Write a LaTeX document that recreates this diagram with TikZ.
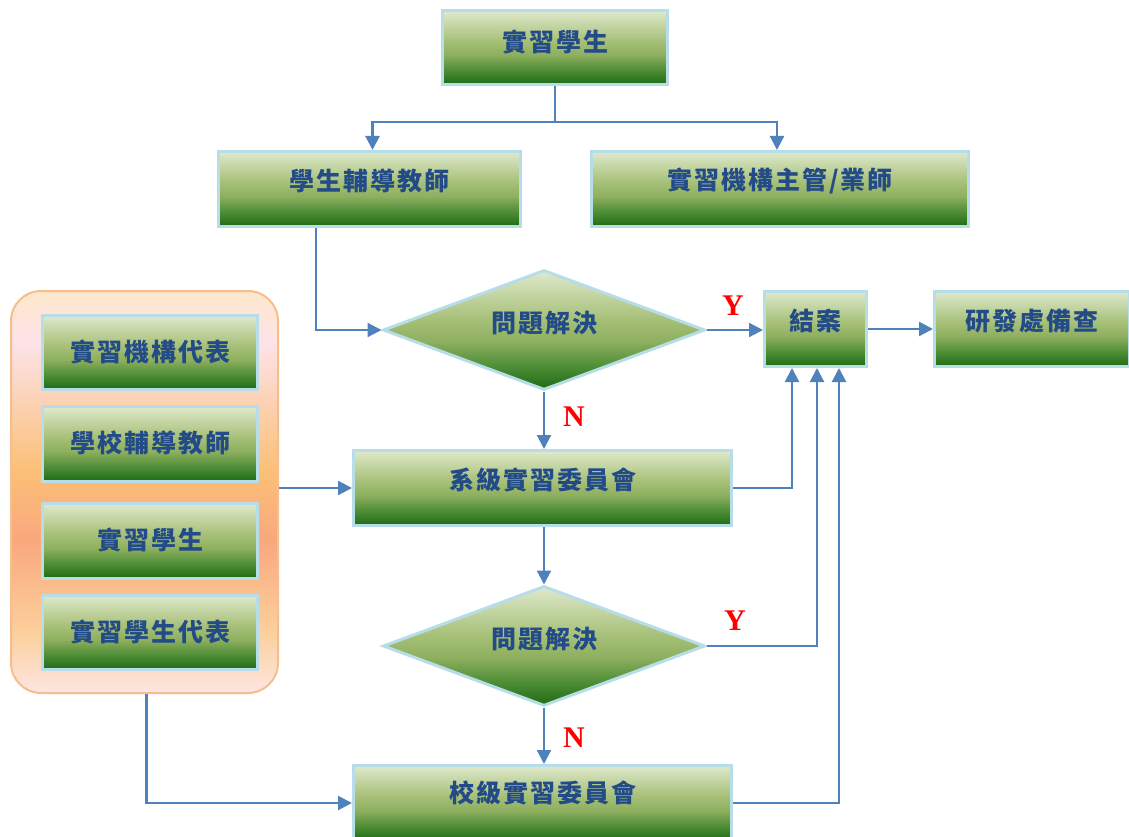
\documentclass[tikz,border=0pt]{standalone}
\usepackage{fontspec}
\usetikzlibrary{shapes.geometric,arrows.meta}
\newfontfamily\cjk[LetterSpace=8]{Noto Sans CJK TC}
\newfontfamily\lserif{Liberation Serif}
\definecolor{gA}{HTML}{1E6B14}
\definecolor{gB}{HTML}{4F8E37}
\definecolor{gC}{HTML}{8DAF5E}
\definecolor{gD}{HTML}{A8C17A}
\definecolor{gE}{HTML}{DFE9CC}
\definecolor{oA}{HTML}{FDE5E3}
\definecolor{oB}{HTML}{FCD09C}
\definecolor{oC}{HTML}{F9A87E}
\definecolor{oD}{HTML}{FBBF76}
\definecolor{oE}{HTML}{FDE2E8}
\definecolor{oF}{HTML}{FDE8CB}
\definecolor{boxborder}{HTML}{B7DDE8}
\definecolor{contborder}{HTML}{F8BD8C}
\definecolor{txtblue}{HTML}{234B87}
\definecolor{lineblue}{HTML}{4F81BD}
\pgfdeclareverticalshading{gshade}{100bp}{color(0bp)=(gA); color(25bp)=(gA); color(35bp)=(gB); color(45bp)=(gC); color(55bp)=(gD); color(75bp)=(gE); color(100bp)=(gE)}
\pgfdeclareverticalshading{oshade}{100bp}{color(0bp)=(oA); color(25bp)=(oA); color(32.5bp)=(oB); color(44bp)=(oC); color(52.5bp)=(oD); color(68.5bp)=(oE); color(75bp)=(oF); color(100bp)=(oF)}
\begin{document}
\begin{tikzpicture}[x=1pt,y=-1pt,
  gbox/.style={rectangle, draw=boxborder, line width=3pt, shading=gshade, inner sep=0pt},
  gdia/.style={diamond, draw=boxborder, line width=3pt, shading=gshade, inner sep=0pt, minimum width=322pt, minimum height=120pt},
  gtext/.style={font=\cjk\bfseries\fontsize{25pt}{28pt}\selectfont, text=txtblue, inner sep=0pt},
  yn/.style={font=\lserif\bfseries\fontsize{30pt}{32pt}\selectfont, text=red, inner sep=0pt},
  arr/.style={draw=lineblue, line width=2.2pt, -{Triangle[length=14pt,width=14pt]}},
  ln/.style={draw=lineblue, line width=2.2pt}]
\useasboundingbox (0,0) rectangle (1129,837);
% container
\node[rectangle, rounded corners=30pt, draw=contborder, line width=2pt, shading=oshade, minimum width=267pt, minimum height=402pt, inner sep=0pt] (cont) at (144.5,492) {};
% boxes
\node[gbox, minimum width=225pt, minimum height=74pt] (top) at (555,47.5) {};
\node[gtext] (top-t) at ([yshift=6pt]top.center) {實習學生};
\node[gbox, minimum width=302pt, minimum height=75pt] (st) at (369.5,189) {};
\node[gtext] (st-t) at ([yshift=8pt]st.center) {學生輔導教師};
\node[gbox, minimum width=377pt, minimum height=75pt] (org) at (780,189) {};
\node[gtext] (org-t) at ([yshift=8pt]org.center) {實習機構主管/業師};
\node[gbox, minimum width=102pt, minimum height=75pt] (close) at (815.5,329) {};
\node[gtext] (close-t) at ([yshift=8pt]close.center) {結案};
\node[gbox, minimum width=195pt, minimum height=75pt] (rd) at (1032,329) {};
\node[gtext] (rd-t) at ([yshift=8pt]rd.center) {研發處備查};
\node[gbox, minimum width=215pt, minimum height=74pt] (a1) at (150,352.5) {};
\node[gtext] (a1-t) at ([yshift=1pt]a1.center) {實習機構代表};
\node[gbox, minimum width=215pt, minimum height=75pt] (a2) at (150,444) {};
\node[gtext] (a2-t) at ([yshift=1pt]a2.center) {學校輔導教師};
\node[gbox, minimum width=215pt, minimum height=75pt] (a3) at (150,541) {};
\node[gtext] (a3-t) at ([yshift=1pt]a3.center) {實習學生};
\node[gbox, minimum width=215pt, minimum height=74pt] (a4) at (150,632.5) {};
\node[gtext] (a4-t) at ([yshift=1pt]a4.center) {實習學生代表};
\node[gbox, minimum width=378pt, minimum height=75pt] (sys) at (542.5,488) {};
\node[gtext] (sys-t) at ([yshift=8pt]sys.center) {系級實習委員會};
\node[gbox, minimum width=378pt, minimum height=75pt] (sch) at (542.5,803) {};
\node[gtext] (sch-t) at ([yshift=10pt]sch.center) {校級實習委員會};
% diamonds
\node[gdia] (d1) at (544,330) {};
\node[gtext] (d1-t) at ([yshift=7pt]d1.center) {問題解決};
\node[gdia] (d2) at (544,646) {};
\node[gtext] (d2-t) at ([yshift=7pt]d2.center) {問題解決};
% labels
\node[yn] (y1) at (733,306) {Y};
\node[yn] (y2) at (735,621) {Y};
\node[yn] (n1) at (574,417) {N};
\node[yn] (n2) at (574,738) {N};
% connectors
\coordinate (split) at (555,122);
\draw[ln] (top.south) -- (split);
\draw[arr] (split) -| ([xshift=3pt]st.north);
\draw[arr] (split) -| ([xshift=-3pt]org.north);
\draw[arr] ([xshift=-53.5pt]st.south) |- (d1.west);
\draw[arr] (d1.east) -- (close.west |- d1.east);
\draw[arr] (close.east) -- (rd.west);
\draw[arr] (d1.south) -- (d1.south |- sys.north);
\draw[arr] (sys.east) -| ([xshift=-23.5pt]close.south);
\draw[arr] (d2.north |- sys.south) -- (d2.north);
\draw[arr] (d2.east) -| ([xshift=1.5pt]close.south);
\draw[arr] (d2.south) -- (d2.south |- sch.north);
\draw[arr] (sch.east) -| ([xshift=23.5pt]close.south);
\draw[arr] (cont.east |- sys.west) -- (sys.west);
\draw[arr] ([xshift=2pt]cont.south) |- (sch.west);
\end{tikzpicture}
\end{document}
